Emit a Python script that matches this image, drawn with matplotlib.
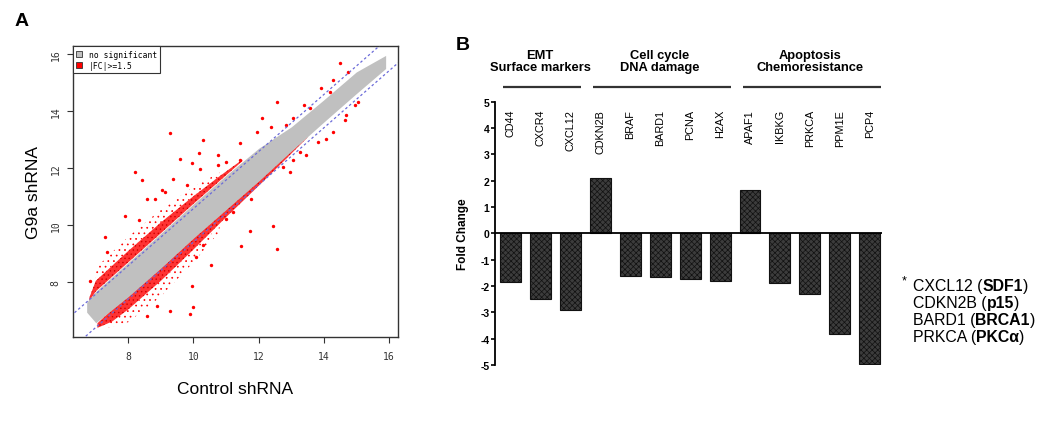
import numpy as np
import matplotlib
matplotlib.use("Agg")
from matplotlib import pyplot as plt
from matplotlib.patches import Patch
import matplotlib.transforms as mtrans

plt.rcParams['font.family'] = ['Liberation Sans', 'DejaVu Sans']
plt.rcParams['hatch.linewidth'] = 0.5

# ---- panel A data ----
# gray band of non-significant probes
band_x = [6.72, 7.0, 8.0, 9.0, 10.0, 11.0, 12.0, 13.0, 14.0, 15.0, 15.9]
band_hi = [7.3, 7.68, 8.7, 9.72, 10.75, 11.75, 12.7, 13.45, 14.4, 15.38, 15.96]
band_lo = [6.95, 6.58, 7.5, 8.5, 9.55, 10.55, 11.55, 12.6, 13.62, 14.62, 15.5]

# dense red strips on both sides of the band
up_x = [6.8, 7.0, 8.0, 9.0, 10.0, 10.8, 11.5]
up_inner = [7.32, 7.68, 8.7, 9.72, 10.75, 11.55, 12.25]
up_outer = [7.45, 8.05, 9.1, 10.1, 11.02, 11.72, 12.3]
lo_x = [7.05, 7.5, 8.0, 9.0, 10.0, 11.0, 12.0, 12.8, 13.5]
lo_inner = [6.56, 7.05, 7.5, 8.5, 9.55, 10.55, 11.55, 12.4, 13.1]
lo_outer = [6.4, 6.62, 7.05, 8.05, 9.15, 10.28, 11.38, 12.28, 13.08]

# sparser red halo
uh_x = [7.0, 8.0, 9.0, 10.0, 10.8]
uh_inner = [8.05, 9.1, 10.1, 11.02, 11.72]
uh_outer = [8.5, 9.6, 10.55, 11.35, 11.85]
lh_x = [7.4, 8.0, 9.0, 10.0, 10.8]
lh_inner = [6.66, 7.05, 8.05, 9.15, 9.95]
lh_outer = [6.4, 6.6, 7.5, 8.7, 9.78]

# isolated red points
red_x = [9.27, 10.30, 10.17, 8.20, 8.41, 9.36, 9.02, 9.12, 7.28, 8.56, 7.89, 8.33,
         7.35, 6.82, 10.19, 9.96, 9.79, 10.76, 11.42, 11.42, 11.95, 12.39, 12.55,
         12.11, 12.85, 13.39, 13.57, 13.93, 14.28, 14.49, 14.74, 14.18, 13.06,
         10.74, 11.01, 9.58, 8.81,
         12.55, 12.44, 11.73, 11.47, 10.55, 9.99, 9.89, 9.27, 9.94, 10.09, 11.78,
         12.95, 13.47, 13.82, 14.28, 14.69, 14.95, 15.05, 14.07, 12.75, 13.06,
         13.26, 14.64, 11.22, 11.01, 8.56, 8.87, 10.30]
red_y = [13.22, 12.99, 12.55, 11.87, 11.58, 11.64, 11.23, 11.16, 9.58, 10.93, 10.34, 10.17,
         9.06, 8.06, 11.99, 12.17, 11.40, 12.46, 12.90, 12.28, 13.28, 13.46, 14.34,
         13.75, 13.51, 14.22, 14.10, 14.81, 15.10, 15.71, 15.39, 14.69, 13.75,
         12.13, 12.23, 12.34, 10.93,
         9.17, 9.99, 9.80, 9.27, 8.62, 7.12, 6.88, 7.00, 7.88, 8.88, 10.93,
         11.87, 12.46, 12.93, 13.28, 13.87, 14.22, 14.34, 13.04, 12.05, 12.28,
         12.58, 13.69, 10.46, 10.23, 6.82, 7.18, 9.29]

fc_cut = 1.5

# ---- panel B data ----
genes = ['CD44', 'CXCR4', 'CXCL12', 'CDKN2B', 'BRAF', 'BARD1', 'PCNA', 'H2AX',
         'APAF1', 'IKBKG', 'PRKCA', 'PPM1E', 'PCP4']
fold_change = [-1.85, -2.48, -2.92, 2.12, -1.62, -1.66, -1.73, -1.82,
               1.63, -1.89, -2.32, -3.81, -4.97]
group_names = ['EMT\nSurface markers', 'Cell cycle\nDNA damage', 'Apoptosis\nChemoresistance']
group_first = [0, 3, 8]
group_last = [2, 7, 12]
notes = [('CXCL12 (', 'SDF1', ')'), ('CDKN2B (', 'p15', ')'),
         ('BARD1 (', 'BRCA1', ')'), ('PRKCA (', 'PKCα', ')')]

fig = plt.figure(figsize=(10.56, 4.35), dpi=100)

# ================= panel A =================
axA = fig.add_axes([0.0688, 0.2237, 0.3081, 0.6676])
red = '#ff0000'
axA.fill_between(band_x, band_lo, band_hi, color='#c0c0c0', lw=0, zorder=2)
axA.fill_between(up_x, up_inner, up_outer, facecolor=(1, 0, 0, 0.8), edgecolor='#d00000',
                 hatch='....', lw=0, zorder=1)
axA.fill_between(lo_x, lo_outer, lo_inner, facecolor=(1, 0, 0, 0.8), edgecolor='#d00000',
                 hatch='....', lw=0, zorder=1)
axA.fill_between(uh_x, uh_inner, uh_outer, facecolor='none', edgecolor=red,
                 hatch='...', lw=0, zorder=1)
axA.fill_between(lh_x, lh_outer, lh_inner, facecolor='none', edgecolor=red,
                 hatch='...', lw=0, zorder=1)
axA.scatter(red_x, red_y, s=6, color=red, lw=0, zorder=3)

off = np.log2(fc_cut)
xx = np.array([6.0, 17.0])
axA.plot(xx, xx + off, ls=(0, (2, 2)), color='#6a6ad8', lw=0.9, zorder=4)
axA.plot(xx, xx - off, ls=(0, (2, 2)), color='#6a6ad8', lw=0.9, zorder=4)

axA.set_xlim(6.29, 16.28)
axA.set_ylim(6.09, 16.28)
axA.set_xticks([8, 10, 12, 14, 16])
axA.set_yticks([8, 10, 12, 14, 16])
mono = {'family': 'DejaVu Sans Mono', 'size': 7}
axA.set_xticklabels(['8', '10', '12', '14', '16'], fontdict=mono)
axA.set_yticklabels(['8', '10', '12', '14', '16'], fontdict=mono, rotation=90, va='center')
axA.tick_params(direction='out', length=4.5, width=0.8, colors='#333333')
axA.tick_params(axis='x', pad=6)
axA.tick_params(axis='y', pad=4)
for sp in axA.spines.values():
    sp.set_color('#333333')
    sp.set_linewidth(1.0)
axA.set_xlabel('Control shRNA', fontsize=12.5, labelpad=14)
axA.set_ylabel('G9a shRNA', fontsize=12.5, labelpad=7)
leg = axA.legend(handles=[Patch(facecolor='#c0c0c0', edgecolor='#333333', lw=0.6),
                          Patch(facecolor=red, edgecolor='#333333', lw=0.6)],
                 labels=['no significant', '|FC|>=1.5'], loc='upper left',
                 prop={'family': 'DejaVu Sans Mono', 'size': 5.8}, borderaxespad=0,
                 fancybox=False, edgecolor='#333333', framealpha=1,
                 handlelength=0.8, handleheight=0.8, handletextpad=0.8,
                 labelspacing=0.3, borderpad=0.4)
leg.get_frame().set_linewidth(0.8)

fig.text(22 / 1056, 1 - 22 / 435, 'A', fontsize=14, fontweight='bold', ha='center', va='center')

# ================= panel B =================
axB = fig.add_axes([0.4688, 0.1586, 0.3664, 0.6053])
pos = np.arange(len(genes))
axB.bar(pos, fold_change, width=0.7, facecolor='#3c3c3c', edgecolor='#111111',
        hatch='xxxxxx', lw=0.8, zorder=2)
axB.axhline(0, color='black', lw=1.3, zorder=3)
axB.set_xlim(-0.5, 12.4)
axB.set_ylim(-5, 5)
axB.set_yticks(range(-5, 6))
axB.set_yticklabels([str(v) for v in range(-5, 6)], fontsize=7.5, fontweight='bold')
axB.set_xticks([])
for s in ['top', 'right', 'bottom']:
    axB.spines[s].set_visible(False)
axB.spines['left'].set_linewidth(1.3)
axB.tick_params(axis='y', direction='out', length=3, width=1.2, pad=1)
axB.set_ylabel('Fold Change', fontsize=8.5, fontweight='bold', labelpad=8)

for p, g in zip(pos, genes):
    axB.text(p, 4.73, g, rotation=90, ha='center', va='top', fontsize=7.8)

trans = mtrans.blended_transform_factory(axB.transData, fig.transFigure)
for name, a, b in zip(group_names, group_first, group_last):
    axB.plot([a - 0.22, b + 0.38], [1 - 87.7 / 435] * 2, transform=trans,
             color='#333333', lw=1.6, clip_on=False, solid_capstyle='butt')
    axB.text((a + b) / 2, 1 - 62 / 435, name, transform=trans, ha='center',
             va='center', fontsize=9.3, fontweight='bold', linespacing=1.1)

fig.text(463 / 1056, 1 - 45 / 435, 'B', fontsize=14, fontweight='bold', ha='center', va='center')

# footnote with bold protein names
renderer = fig.canvas.get_renderer()
fig.text(902 / 1056, 1 - 284 / 435, '*', fontsize=9, ha='left', va='baseline')
for i, (pre, bold, post) in enumerate(notes):
    x = 913 / 1056
    y = 1 - (291 + i * 17) / 435
    for s, w in [(pre, 'normal'), (bold, 'bold'), (post, 'normal')]:
        t = fig.text(x, y, s, fontsize=11.4, fontweight=w, ha='left', va='baseline')
        bb = t.get_window_extent(renderer=renderer)
        x += bb.width / fig.bbox.width

fig.savefig('out.png', dpi=100)
